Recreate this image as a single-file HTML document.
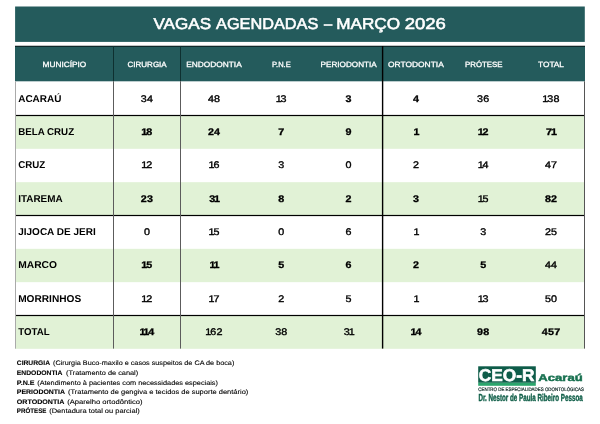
<!DOCTYPE html><html lang="pt-BR"><head><meta charset="utf-8"><title>Vagas Agendadas – Março 2026</title>
<style>
html,body{margin:0;padding:0;background:#fff;}
body{width:600px;height:424px;overflow:hidden;}
svg{display:block;will-change:transform;}
text{font-family:"Liberation Sans",sans-serif;text-rendering:geometricPrecision;}
.b{font-weight:bold;}
.m{font-weight:normal;stroke:#000;stroke-width:0.35px;}
.h{font-weight:normal;fill:#fff;stroke:#fff;stroke-width:0.3px;font-size:7.6px;}
.n{font-size:9.6px;fill:#000;text-anchor:middle;}
.n.b{stroke:#000;stroke-width:0.3px;}
.mun{font-size:10px;fill:#000;font-weight:bold;}
.ft{font-size:6.6px;fill:#000;stroke:#000;stroke-width:0.1px;}
</style></head><body>
<svg width="600" height="424" viewBox="0 0 600 424">
<rect width="600" height="424" fill="#fff"/>
<rect x="15.1" y="6.5" width="569.7" height="35.4" fill="#245b5c"/>
<text y="29.0" font-size="15.7" fill="#fff" style="stroke:#fff;stroke-width:0.55px"><tspan x="153.5" textLength="57.6" lengthAdjust="spacingAndGlyphs">VAGAS</tspan> <tspan x="216.1" textLength="102.2" lengthAdjust="spacingAndGlyphs">AGENDADAS</tspan> <tspan x="323.9" textLength="8.2" lengthAdjust="spacingAndGlyphs">–</tspan> <tspan x="336.2" textLength="63.9" lengthAdjust="spacingAndGlyphs">MARÇO</tspan> <tspan x="404.7" textLength="41.2" lengthAdjust="spacingAndGlyphs">2026</tspan></text>
<rect x="15" y="46" width="570.0" height="35.3" fill="#245b5c"/>
<rect x="15" y="115.50" width="569.5" height="33.33" fill="#e1f2d6"/>
<rect x="15" y="182.17" width="569.5" height="33.33" fill="#e1f2d6"/>
<rect x="15" y="248.83" width="569.5" height="33.33" fill="#e1f2d6"/>
<rect x="15" y="315.50" width="569.5" height="33.33" fill="#e1f2d6"/>
<rect x="15" y="45.75" width="570" height="0.9" fill="#061010"/>
<rect x="16" y="114.9" width="569.0" height="1.2" fill="#000"/>
<rect x="16" y="214.9" width="569.0" height="1.2" fill="#000"/>
<rect x="16" y="314.9" width="569.0" height="1.2" fill="#000"/>
<rect x="113.0" y="46" width="1" height="35.3" fill="#0e3030"/>
<rect x="113.0" y="81.3" width="1" height="267.3" fill="#5c5c5c"/>
<rect x="180.0" y="46" width="1" height="35.3" fill="#0e3030"/>
<rect x="180.0" y="81.3" width="1" height="267.3" fill="#5c5c5c"/>
<rect x="381.9" y="46" width="1.4" height="302.6" fill="#000"/>
<rect x="584" y="81.3" width="1" height="267.3" fill="#555"/>
<rect x="15" y="81.3" width="1" height="267.3" fill="#aaa"/>
<text class="h" x="42.50" y="66.9" textLength="43.80" lengthAdjust="spacingAndGlyphs">MUNICÍPIO</text>
<text class="h" x="127.50" y="66.9" textLength="39.20" lengthAdjust="spacingAndGlyphs">CIRURGIA</text>
<text class="h" x="186.25" y="66.9" textLength="55.50" lengthAdjust="spacingAndGlyphs">ENDODONTIA</text>
<text class="h" x="272.00" y="66.9" textLength="18.75" lengthAdjust="spacingAndGlyphs">P.N.E</text>
<text class="h" x="320.50" y="66.9" textLength="56.25" lengthAdjust="spacingAndGlyphs">PERIODONTIA</text>
<text class="h" x="388.00" y="66.9" textLength="55.75" lengthAdjust="spacingAndGlyphs">ORTODONTIA</text>
<text class="h" x="465.00" y="66.9" textLength="37.50" lengthAdjust="spacingAndGlyphs">PRÓTESE</text>
<text class="h" x="538.00" y="66.9" textLength="26.00" lengthAdjust="spacingAndGlyphs">TOTAL</text>
<text class="mun" x="18.2" y="101.7" textLength="43.2" lengthAdjust="spacingAndGlyphs">ACARAÚ</text>
<text class="n m" transform="translate(0,101.7) scale(1.12,1)" x="128.42 133.91">34</text>
<text class="n m" transform="translate(0,101.7) scale(1.12,1)" x="188.33 193.82">48</text>
<text class="n m" transform="translate(0,101.7) scale(1.12,1)" x="248.77 253.19">13</text>
<text class="n b" transform="translate(0,101.7) scale(1.12,1)" x="311.25">3</text>
<text class="n b" transform="translate(0,101.7) scale(1.12,1)" x="371.43">4</text>
<text class="n m" transform="translate(0,101.7) scale(1.12,1)" x="428.68 434.17">36</text>
<text class="n m" transform="translate(0,101.7) scale(1.12,1)" x="486.92 491.34 496.83">138</text>
<text class="mun" x="18.2" y="135.0" textLength="55.9" lengthAdjust="spacingAndGlyphs">BELA CRUZ</text>
<text class="n b" transform="translate(0,135.0) scale(1.12,1)" x="128.86 133.28">18</text>
<text class="n b" transform="translate(0,135.0) scale(1.12,1)" x="188.33 193.82">24</text>
<text class="n b" transform="translate(0,135.0) scale(1.12,1)" x="251.07">7</text>
<text class="n b" transform="translate(0,135.0) scale(1.12,1)" x="311.25">9</text>
<text class="n b" transform="translate(0,135.0) scale(1.12,1)" x="371.87">1</text>
<text class="n b" transform="translate(0,135.0) scale(1.12,1)" x="429.13 433.55">12</text>
<text class="n b" transform="translate(0,135.0) scale(1.12,1)" x="490.29 494.71">71</text>
<text class="mun" x="18.2" y="168.3" textLength="27.0" lengthAdjust="spacingAndGlyphs">CRUZ</text>
<text class="n m" transform="translate(0,168.3) scale(1.12,1)" x="128.86 133.28">12</text>
<text class="n m" transform="translate(0,168.3) scale(1.12,1)" x="188.77 193.19">16</text>
<text class="n m" transform="translate(0,168.3) scale(1.12,1)" x="251.07">3</text>
<text class="n m" transform="translate(0,168.3) scale(1.12,1)" x="311.25">0</text>
<text class="n m" transform="translate(0,168.3) scale(1.12,1)" x="371.43">2</text>
<text class="n m" transform="translate(0,168.3) scale(1.12,1)" x="429.13 433.55">14</text>
<text class="n m" transform="translate(0,168.3) scale(1.12,1)" x="489.22 494.71">47</text>
<text class="mun" x="18.2" y="201.7" textLength="44.5" lengthAdjust="spacingAndGlyphs">ITAREMA</text>
<text class="n b" transform="translate(0,201.7) scale(1.12,1)" x="128.42 133.91">23</text>
<text class="n b" transform="translate(0,201.7) scale(1.12,1)" x="189.40 193.82">31</text>
<text class="n b" transform="translate(0,201.7) scale(1.12,1)" x="251.07">8</text>
<text class="n b" transform="translate(0,201.7) scale(1.12,1)" x="311.25">2</text>
<text class="n b" transform="translate(0,201.7) scale(1.12,1)" x="371.43">3</text>
<text class="n m" transform="translate(0,201.7) scale(1.12,1)" x="429.13 433.55">15</text>
<text class="n b" transform="translate(0,201.7) scale(1.12,1)" x="489.22 494.71">82</text>
<text class="mun" x="18.2" y="235.0" textLength="77.5" lengthAdjust="spacingAndGlyphs">JIJOCA DE JERI</text>
<text class="n m" transform="translate(0,235.0) scale(1.12,1)" x="131.16">0</text>
<text class="n m" transform="translate(0,235.0) scale(1.12,1)" x="188.77 193.19">15</text>
<text class="n m" transform="translate(0,235.0) scale(1.12,1)" x="251.07">0</text>
<text class="n m" transform="translate(0,235.0) scale(1.12,1)" x="311.25">6</text>
<text class="n m" transform="translate(0,235.0) scale(1.12,1)" x="371.87">1</text>
<text class="n m" transform="translate(0,235.0) scale(1.12,1)" x="431.43">3</text>
<text class="n m" transform="translate(0,235.0) scale(1.12,1)" x="489.22 494.71">25</text>
<text class="mun" x="18.2" y="268.3" textLength="38.75" lengthAdjust="spacingAndGlyphs">MARCO</text>
<text class="n b" transform="translate(0,268.3) scale(1.12,1)" x="128.86 133.28">15</text>
<text class="n b" transform="translate(0,268.3) scale(1.12,1)" x="189.84 193.19">11</text>
<text class="n b" transform="translate(0,268.3) scale(1.12,1)" x="251.07">5</text>
<text class="n b" transform="translate(0,268.3) scale(1.12,1)" x="311.25">6</text>
<text class="n b" transform="translate(0,268.3) scale(1.12,1)" x="371.43">2</text>
<text class="n b" transform="translate(0,268.3) scale(1.12,1)" x="431.43">5</text>
<text class="n m" transform="translate(0,268.3) scale(1.12,1)" x="489.22 494.71">44</text>
<text class="mun" x="18.2" y="301.7" textLength="63.0" lengthAdjust="spacingAndGlyphs">MORRINHOS</text>
<text class="n m" transform="translate(0,301.7) scale(1.12,1)" x="128.86 133.28">12</text>
<text class="n m" transform="translate(0,301.7) scale(1.12,1)" x="188.77 193.19">17</text>
<text class="n m" transform="translate(0,301.7) scale(1.12,1)" x="251.07">2</text>
<text class="n m" transform="translate(0,301.7) scale(1.12,1)" x="311.25">5</text>
<text class="n m" transform="translate(0,301.7) scale(1.12,1)" x="371.87">1</text>
<text class="n m" transform="translate(0,301.7) scale(1.12,1)" x="429.13 433.55">13</text>
<text class="n m" transform="translate(0,301.7) scale(1.12,1)" x="489.22 494.71">50</text>
<text class="mun" x="18.2" y="335.0" textLength="31.4" lengthAdjust="spacingAndGlyphs">TOTAL</text>
<text class="n b" transform="translate(0,335.0) scale(1.12,1)" x="127.19 130.54 134.96">114</text>
<text class="n m" transform="translate(0,335.0) scale(1.12,1)" x="186.03 190.45 195.94">162</text>
<text class="n m" transform="translate(0,335.0) scale(1.12,1)" x="248.33 253.82">38</text>
<text class="n m" transform="translate(0,335.0) scale(1.12,1)" x="309.58 314.00">31</text>
<text class="n b" transform="translate(0,335.0) scale(1.12,1)" x="369.13 373.55">14</text>
<text class="n b" transform="translate(0,335.0) scale(1.12,1)" x="428.68 434.17">98</text>
<text class="n b" transform="translate(0,335.0) scale(1.12,1)" x="486.47 491.96 497.46">457</text>
<text class="ft" y="365.30"><tspan class="b" x="16.8" textLength="33.2" lengthAdjust="spacingAndGlyphs">CIRURGIA</tspan> <tspan x="53.0" textLength="181.3" lengthAdjust="spacingAndGlyphs">(Cirurgia Buco-maxilo e casos suspeitos de CA de boca)</tspan></text>
<text class="ft" y="374.92"><tspan class="b" x="16.8" textLength="45.6" lengthAdjust="spacingAndGlyphs">ENDODONTIA</tspan> <tspan x="66.0" textLength="72.2" lengthAdjust="spacingAndGlyphs">(Tratamento de canal)</tspan></text>
<text class="ft" y="384.54"><tspan class="b" x="16.8" textLength="17.8" lengthAdjust="spacingAndGlyphs">P.N.E</tspan> <tspan x="37.2" textLength="180.8" lengthAdjust="spacingAndGlyphs">(Atendimento à pacientes com necessidades especiais)</tspan></text>
<text class="ft" y="394.16"><tspan class="b" x="16.8" textLength="48.2" lengthAdjust="spacingAndGlyphs">PERIODONTIA</tspan> <tspan x="68.0" textLength="180.3" lengthAdjust="spacingAndGlyphs">(Tratamento de gengiva e tecidos de suporte dentário)</tspan></text>
<text class="ft" y="403.78"><tspan class="b" x="16.8" textLength="47.6" lengthAdjust="spacingAndGlyphs">ORTODONTIA</tspan> <tspan x="67.2" textLength="75.4" lengthAdjust="spacingAndGlyphs">(Aparelho ortodôntico)</tspan></text>
<text class="ft" y="413.40"><tspan class="b" x="16.8" textLength="29.6" lengthAdjust="spacingAndGlyphs">PRÓTESE</tspan> <tspan x="49.2" textLength="90.6" lengthAdjust="spacingAndGlyphs">(Dentadura total ou parcial)</tspan></text>
<g id="logo">
<rect x="478.2" y="366.3" width="57.6" height="16.5" fill="#0e5c49"/>
<rect x="478.2" y="382.8" width="57.6" height="3.0" fill="#2aa56c"/>
<text x="478.8" y="380.8" font-size="17.0" class="b" fill="#fff" style="stroke:#fff;stroke-width:0.6px" textLength="55.7" lengthAdjust="spacingAndGlyphs">CEO-R</text>
<text x="538.3" y="380.7" font-size="10" class="b" fill="#17704f" style="stroke:#17704f;stroke-width:0.45px" textLength="44.4" lengthAdjust="spacingAndGlyphs">Acaraú</text>
<text x="478.3" y="390.5" font-size="4.9" fill="#08221f" style="stroke:#08221f;stroke-width:0.18px" textLength="105.6" lengthAdjust="spacingAndGlyphs">CENTRO DE ESPECIALIDADES ODONTOLÓGICAS</text>
<text x="478.4" y="401.2" font-size="10.1" class="b" fill="#12604a" style="stroke:#12604a;stroke-width:0.4px" textLength="104.3" lengthAdjust="spacingAndGlyphs">Dr. Nestor de Paula Ribeiro Pessoa</text>
</g>
</svg></body></html>
